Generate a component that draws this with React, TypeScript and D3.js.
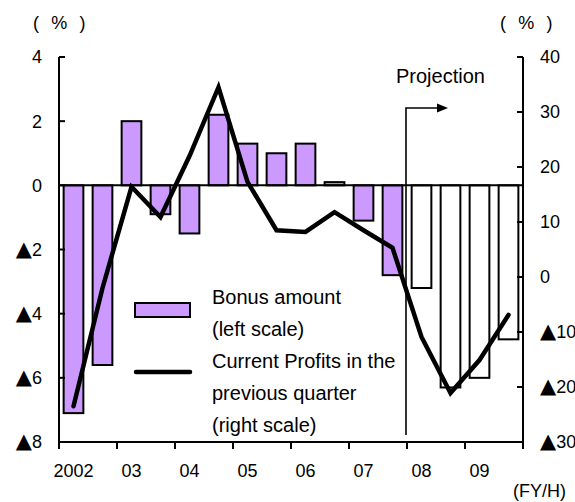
import React from "react";
import * as d3 from "d3";

// Half-year periods, FY2002 H1 .. FY2009 H2
const categories = [
  "2002H1", "2002H2", "2003H1", "2003H2", "2004H1", "2004H2", "2005H1", "2005H2",
  "2006H1", "2006H2", "2007H1", "2007H2", "2008H1", "2008H2", "2009H1", "2009H2",
];
// Bonus amount, % change (left scale)
const bonusValues = [-7.1, -5.6, 2.0, -0.9, -1.5, 2.2, 1.3, 1.0, 1.3, 0.1, -1.1, -2.8, -3.2, -6.3, -6.0, -4.8];
// Current profits in the previous quarter, % change (right scale)
const profitValues = [-23.5, -2, 16.4, 10.9, 22, 34.5, 17.3, 8.5, 8.2, 11.8, 8.5, 5.3, -10.9, -21.1, -15.1, -6.9];
// First projected period
const firstProjected = "2008H1";

const yearLabels = ["2002", "03", "04", "05", "06", "07", "08", "09"];
const yearStarts = ["2002H1", "2003H1", "2004H1", "2005H1", "2006H1", "2007H1", "2008H1", "2009H1"];
const leftTicks = [4, 2, 0, -2, -4, -6, -8];
const rightTicks = [40, 30, 20, 10, 0, -10, -20, -30];

const W = 575;
const H = 502;
const plot = { left: 59, right: 523, top: 57, bottom: 442 };
const FONT = "'Liberation Sans', Arial, Helvetica, sans-serif";
const PURPLE = "#CC99FF";

// Negative values are written with a leading triangle instead of a minus sign
function TickText({ v }: { v: number }) {
  if (v >= 0) return <>{String(v)}</>;
  return (
    <>
      <tspan fontFamily="'DejaVu Sans', sans-serif" fontSize={21}>{"\u25B2"}</tspan>
      <tspan>{String(Math.abs(v))}</tspan>
    </>
  );
}

export default function App() {
  const x = d3
    .scaleBand<string>()
    .domain(categories)
    .range([plot.left, plot.right])
    .paddingInner(0.32)
    .paddingOuter(0.16);
  const step = x.step();
  const bw = x.bandwidth();
  const yL = d3.scaleLinear().domain([-8, 4]).range([plot.bottom, plot.top]);
  const yR = d3.scaleLinear().domain([-30, 40]).range([plot.bottom, plot.top]);

  const projIdx = categories.indexOf(firstProjected);
  const cx = (c: string) => (x(c) as number) + bw / 2;

  const line = d3
    .line<number>()
    .x((_, i) => cx(categories[i]))
    .y((d) => yR(d));

  // year boundaries: start of each year's first band slot, plus the right edge
  const boundaries = yearStarts.map((c) => (x(c) as number) - (step - bw) / 2).concat([plot.right]);
  const projX = (x(firstProjected) as number) - (step - bw) / 2 - 1;

  return (
    <svg
      width={W}
      height={H}
      style={{ position: "absolute", left: 0, top: 0, background: "#fff" }}
      fontFamily={FONT}
    >
      <rect x={0} y={0} width={W} height={H} fill="#fff" />

      {/* unit labels */}
      <text x={33} y={29} fontSize={18} letterSpacing={3.6} fill="#000">( % )</text>
      <text x={500} y={29} fontSize={18} letterSpacing={3.6} fill="#000">( % )</text>

      {/* bars */}
      {categories.map((c, i) => {
        const v = bonusValues[i];
        const y0 = yL(0);
        const y1 = yL(v);
        return (
          <rect
            key={c}
            x={x(c)}
            y={Math.min(y0, y1)}
            width={bw}
            height={Math.abs(y1 - y0)}
            fill={i >= projIdx ? "#fff" : PURPLE}
            stroke="#000"
            strokeWidth={2}
          />
        );
      })}

      {/* zero line */}
      <line x1={plot.left} x2={plot.right} y1={yL(0)} y2={yL(0)} stroke="#000" strokeWidth={2} />

      {/* axes */}
      <line x1={plot.left} x2={plot.left} y1={plot.top} y2={plot.bottom} stroke="#000" strokeWidth={2} />
      <line x1={plot.right} x2={plot.right} y1={plot.top} y2={plot.bottom} stroke="#000" strokeWidth={2} />
      <line x1={plot.left} x2={plot.right} y1={plot.bottom} y2={plot.bottom} stroke="#000" strokeWidth={2} />

      {leftTicks.map((t) => (
        <g key={"l" + t}>
          <line x1={plot.left} x2={plot.left + 6} y1={yL(t)} y2={yL(t)} stroke="#000" strokeWidth={2} />
          <text x={42} y={yL(t)} dy="0.36em" textAnchor="end" fontSize={18} fill="#000">
            <TickText v={t} />
          </text>
        </g>
      ))}
      {rightTicks.map((t) => (
        <g key={"r" + t}>
          <line x1={plot.right - 6} x2={plot.right} y1={yR(t)} y2={yR(t)} stroke="#000" strokeWidth={2} />
          <text x={540} y={yR(t)} dy="0.36em" textAnchor="start" fontSize={18} fill="#000">
            <TickText v={t} />
          </text>
        </g>
      ))}
      {boundaries.map((b, i) => (
        <line key={"b" + i} x1={b} x2={b} y1={plot.bottom} y2={plot.bottom + 7} stroke="#000" strokeWidth={2} />
      ))}
      {yearLabels.map((lab, i) => (
        <text key={lab} x={cx(yearStarts[i])} y={477} textAnchor="middle" fontSize={18} fill="#000">
          {lab}
        </text>
      ))}
      <text x={513} y={497} fontSize={18} fill="#000">(FY/H)</text>

      {/* projection marker */}
      <path
        d={`M${projX},435 V108 H438`}
        fill="none"
        stroke="#000"
        strokeWidth={1.6}
      />
      <path d={`M437,103.5 L448,108 L437,112.5 Z`} fill="#000" />
      <text x={396} y={83} fontSize={20} fill="#000">Projection</text>

      {/* profits line */}
      <path
        d={line(profitValues) || ""}
        fill="none"
        stroke="#000"
        strokeWidth={4.5}
        strokeLinejoin="miter"
        strokeLinecap="round"
      />

      {/* legend */}
      <rect x={135} y={303} width={55} height={14} fill={PURPLE} stroke="#000" strokeWidth={2} />
      <line x1={136} x2={190} y1={372} y2={372} stroke="#000" strokeWidth={4.5} strokeLinecap="round" />
      {["Bonus amount", "(left scale)", "Current Profits in the", "previous quarter", "(right scale)"].map(
        (s, i) => (
          <text key={s} x={212} y={304 + i * 32} fontSize={20} fill="#000">
            {s}
          </text>
        )
      )}
    </svg>
  );
}
